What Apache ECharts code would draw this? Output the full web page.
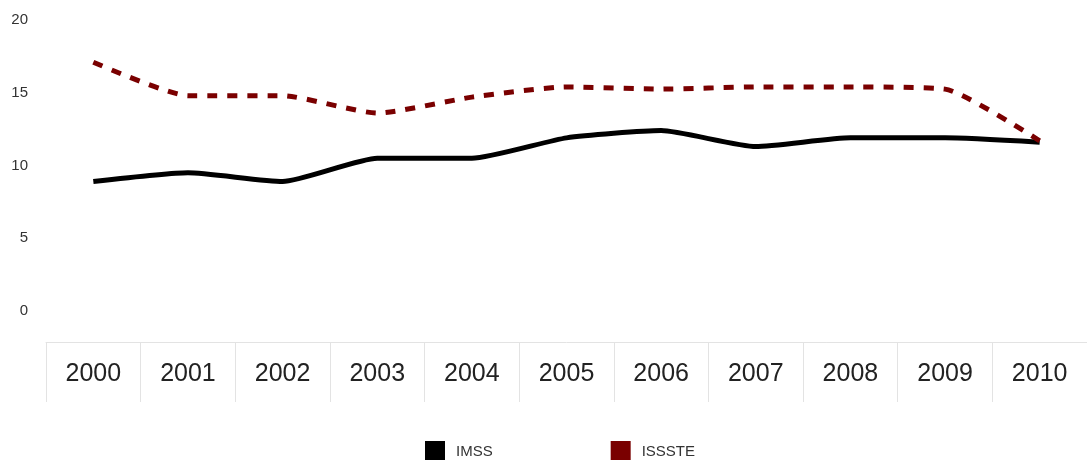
<!DOCTYPE html>
<html><head><meta charset="utf-8">
<script src="https://cdn.jsdelivr.net/npm/echarts@6/dist/echarts.min.js"></script>
<style>html,body{margin:0;padding:0;background:#fff}#c{width:1087px;height:460px}</style>
</head><body><div id="c"></div>
<script>
const years = ['2000','2001','2002','2003','2004','2005','2006','2007','2008','2009','2010'];
const imss = [8.9, 9.5, 8.9, 10.5, 10.5, 11.9, 12.4, 11.3, 11.9, 11.9, 11.6];
const issste = [17.1, 14.8, 14.8, 13.6, 14.7, 15.4, 15.25, 15.4, 15.4, 15.25, 11.7];
const yTicks = {min: 0, max: 20, interval: 5};

const chart = echarts.init(document.getElementById('c'));
chart.setOption({
  animation: false,
  textStyle: {fontFamily: 'Liberation Sans'},
  grid: [
    {left: 46, right: 0, top: 20, bottom: 149},
    {left: 46, right: 0, top: 342, height: 60}
  ],
  xAxis: [
    {type: 'category', data: years, boundaryGap: true, gridIndex: 0, show: false},
    {type: 'category', data: years, boundaryGap: true, gridIndex: 1, position: 'top',
     axisLine: {show: true, onZero: false, lineStyle: {color: '#e3e3e3', width: 1}},
     axisTick: {show: false},
     splitLine: {show: true, lineStyle: {color: '#e3e3e3', width: 1}},
     axisLabel: {inside: true, margin: 20, color: '#222', fontSize: 25, fontFamily: 'Liberation Sans'}}
  ],
  yAxis: [
    {type: 'value', gridIndex: 0, min: yTicks.min, max: yTicks.max, interval: yTicks.interval,
     axisLine: {show: false}, axisTick: {show: false}, splitLine: {show: false},
     axisLabel: {margin: 18, color: '#333', fontSize: 15}},
    {type: 'value', gridIndex: 1, show: false}
  ],
  legend: {
    top: 436, left: 420, icon: 'rect', itemWidth: 20, itemHeight: 22, itemGap: 118,
    textStyle: {fontSize: 15, color: '#333', padding: [0, 0, 0, 6]},
    data: ['IMSS', 'ISSSTE']
  },
  series: [
    {name: 'IMSS', type: 'line', data: imss, xAxisIndex: 0, yAxisIndex: 0, smooth: 0.18,
     showSymbol: false, itemStyle: {color: '#000'}, lineStyle: {color: '#000', width: 5}},
    {name: 'ISSSTE', type: 'line', data: issste, xAxisIndex: 0, yAxisIndex: 0, smooth: 0.18,
     showSymbol: false, itemStyle: {color: '#7a0000'},
     lineStyle: {color: '#7a0000', width: 5, type: [10, 10]}}
  ]
});
</script></body></html>
